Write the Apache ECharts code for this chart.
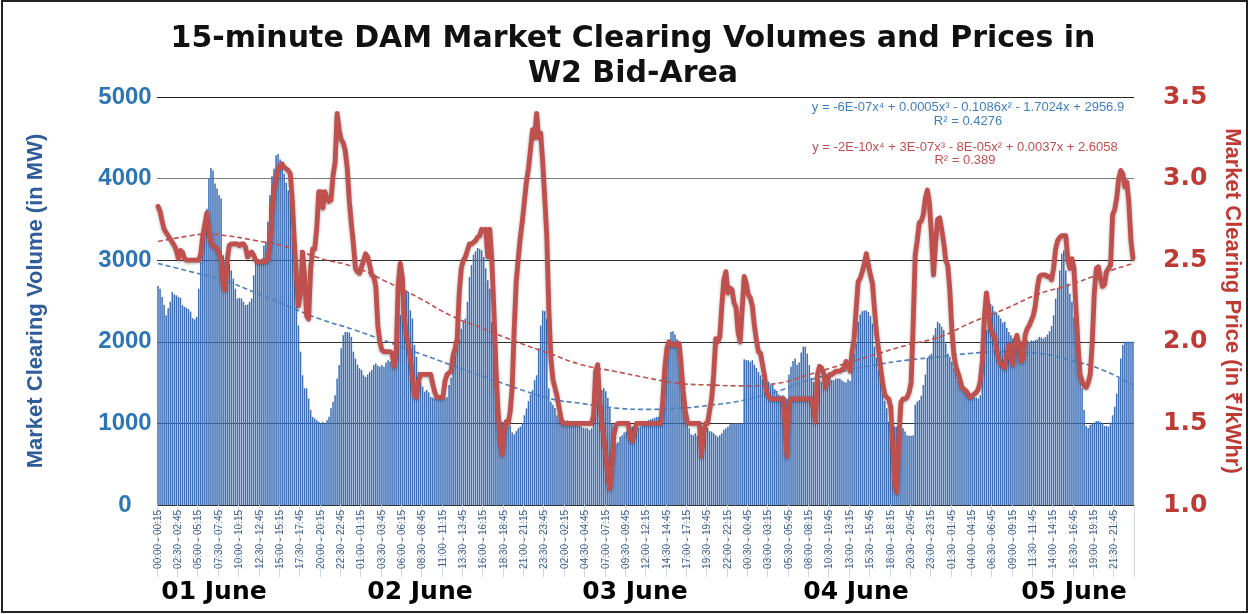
<!DOCTYPE html>
<html><head><meta charset="utf-8">
<script src="https://cdn.jsdelivr.net/npm/echarts/dist/echarts.min.js"></script>
<style>html,body{margin:0;padding:0;background:#fff}#c{width:1250px;height:614px}</style>
</head><body><div id="c"></div>
<script>
const titleLines = ['15-minute DAM Market Clearing Volumes and Prices in', 'W2 Bid-Area'];
const dayLabels = ['01 June', '02 June', '03 June', '04 June', '05 June'];
const volAxisName = 'Market Clearing Volume (in MW)';
const priceAxisName = 'Market Clearing Price (in ₹/kWhr)';
const volEquation = ['y = -6E-07x⁴ + 0.0005x³ - 0.1086x² - 1.7024x + 2956.9', 'R² = 0.4276'];
const priceEquation = ['y = -2E-10x⁴ + 3E-07x³ - 8E-05x² + 0.0037x + 2.6058', 'R² = 0.389'];

const volDay1 = [2685,2650,2550,2450,2325,2410,2490,2610,2580,2570,
2550,2540,2450,2430,2415,2400,2370,2290,2275,2305,
2650,2980,3225,3305,3630,4000,4130,4100,3940,3880,
3800,3755,3060,2980,2940,2960,2875,2775,2650,2530,
2540,2530,2490,2450,2455,2490,2530,2815,2980,3010,
3000,3020,3180,3230,3470,3795,4030,4120,4285,4300,
4235,4155,4060,3950,3855,3755,3305,2900,2610,2200,
1880,1590,1430,1430,1305,1165,1080,1060,1040,1020,
1000,1020,1000,1040,1080,1185,1265,1345,1550,1715,
1920,2080,2120,2120,2115,2060];
const volDay2 = [1880,1795,1720,1675,1655,1590,1570,1600,1630,1655,
1715,1735,1705,1695,1715,1695,1745,1775,1755,1775,
1815,1920,2245,2325,2490,2630,2610,2610,2385,2285,
1960,1815,1630,1510,1450,1390,1410,1380,1325,1315,
1305,1305,1315,1305,1320,1305,1325,1470,1560,1755,
1835,1940,2030,2160,2245,2285,2490,2795,2940,3070,
3110,3150,3140,3120,3040,2900,2755,2650,2245,1980,
1755,1345,1100,1020,970,970,960,970,890,865,
905,940,960,1000,1100,1185,1275,1355,1410,1530,
1590,1920,2200,2385,2375,2285];
const volDay3 = [1430,1265,1230,1190,1100,1055,1020,1010,1030,1035,
1020,1030,990,980,980,970,960,945,940,940,
920,940,1225,1285,1325,1355,1410,1430,1395,1315,
1185,1000,920,755,770,835,855,890,900,920,
940,960,940,940,945,960,980,1000,1020,1040,
1050,1060,1070,1080,1080,1120,1305,1630,1880,2020,
2120,2130,2090,2030,1755,1550,1285,1175,1055,940,
865,855,880,850,825,920,960,970,945,905,
900,880,855,835,855,880,920,940,960,990,
1000,1000,1000,1000,1000,1000];
const volDay4 = [1785,1775,1775,1755,1775,1720,1680,1630,1590,1540,
1500,1490,1510,1470,1470,1420,1395,1355,1340,1345,
1330,1305,1600,1695,1765,1795,1720,1745,1870,1940,
1940,1855,1715,1560,1510,1510,1550,1535,1510,1520,
1540,1550,1550,1530,1530,1550,1550,1550,1530,1510,
1500,1540,1520,1655,1855,1980,2245,2335,2375,2385,
2385,2365,2315,2225,1940,1805,1655,1530,1365,1275,
1185,1020,1000,970,960,960,930,930,940,900,
855,850,850,855,1230,1265,1285,1340,1470,1600,
1805,1835,1855,2080,2170,2245];
const volDay5 = [2225,2185,2145,1980,1855,1815,1755,1675,1625,1530,
1480,1435,1430,1410,1380,1365,1345,1320,1315,1305,
1345,2020,2080,2145,2410,2460,2440,2375,2360,2325,
2285,2235,2245,2170,2120,2080,2040,2000,2020,2015,
2000,2010,2015,2020,2000,2015,2010,2020,2030,2060,
2050,2040,2060,2090,2130,2195,2325,2530,2660,2875,
3080,3120,2875,2715,2590,2490,2305,2160,1980,1630,
1430,1165,970,945,980,1000,1010,1030,1030,1020,
1000,970,970,960,1010,1100,1205,1365,1550,1795,
1960,2000,2000,2000,2000,2000];

const priceDay1 = [2.83,2.80,2.74,2.69,2.67,2.65,2.63,2.61,2.59,2.56,
2.51,2.56,2.55,2.51,2.50,2.50,2.50,2.50,2.50,2.50,
2.50,2.54,2.65,2.72,2.79,2.68,2.61,2.59,2.58,2.57,
2.54,2.50,2.35,2.32,2.50,2.59,2.60,2.60,2.60,2.60,
2.59,2.60,2.60,2.58,2.52,2.54,2.55,2.53,2.50,2.49,
2.49,2.49,2.49,2.50,2.50,2.60,2.80,2.93,3.00,3.06,
3.08,3.09,3.07,3.06,3.05,3.03,2.86,2.61,2.40,2.22,
2.30,2.55,2.40,2.16,2.14,2.45,2.57,2.57,2.70,2.92,
2.92,2.82,2.92,2.88,2.86,2.87,3.02,3.10,3.40,3.30,
3.24,3.22,3.17,3.06,2.86,2.72];
const priceDay2 = [2.60,2.45,2.43,2.42,2.46,2.50,2.54,2.52,2.47,2.41,
2.40,2.34,2.10,2.00,1.95,1.94,1.94,1.94,1.94,1.93,
1.85,1.92,2.35,2.48,2.40,2.15,2.04,1.98,1.90,1.78,
1.67,1.66,1.76,1.80,1.80,1.80,1.80,1.80,1.80,1.74,
1.69,1.66,1.66,1.66,1.66,1.76,1.80,1.81,1.82,1.92,
1.96,2.02,2.30,2.45,2.50,2.52,2.56,2.60,2.60,2.61,
2.62,2.64,2.65,2.69,2.68,2.69,2.52,2.69,2.50,2.20,
1.85,1.59,1.40,1.31,1.45,1.51,1.50,1.57,1.72,2.08,
2.37,2.51,2.64,2.74,2.86,2.98,3.06,3.18,3.30,3.25,
3.40,3.25,3.28,3.10,2.88,2.65];
const priceDay3 = [2.20,1.90,1.77,1.72,1.67,1.60,1.53,1.50,1.50,1.50,
1.50,1.50,1.50,1.50,1.50,1.50,1.50,1.50,1.50,1.50,
1.50,1.50,1.55,1.82,1.86,1.62,1.51,1.42,1.30,1.17,
1.10,1.25,1.43,1.49,1.50,1.50,1.50,1.50,1.50,1.50,
1.41,1.39,1.44,1.50,1.50,1.50,1.50,1.50,1.50,1.50,
1.50,1.50,1.50,1.50,1.50,1.50,1.64,1.84,1.96,2.00,
1.99,1.98,1.98,1.99,1.99,1.86,1.70,1.58,1.51,1.50,
1.50,1.50,1.50,1.50,1.50,1.30,1.43,1.50,1.50,1.58,
1.65,1.80,2.02,2.00,2.03,2.22,2.38,2.43,2.30,2.33,
2.32,2.24,2.21,2.06,2.00,2.20];
const priceDay4 = [2.40,2.36,2.29,2.27,2.22,2.10,2.01,1.94,1.93,1.86,
1.79,1.69,1.67,1.65,1.65,1.65,1.65,1.65,1.65,1.65,
1.51,1.30,1.62,1.65,1.65,1.65,1.65,1.65,1.65,1.65,
1.65,1.65,1.65,1.65,1.59,1.51,1.80,1.85,1.84,1.81,
1.72,1.77,1.80,1.80,1.81,1.82,1.82,1.82,1.83,1.84,
1.88,1.85,1.82,1.94,2.02,2.20,2.37,2.39,2.43,2.48,
2.54,2.47,2.41,2.36,2.20,2.05,1.95,1.84,1.75,1.68,
1.66,1.65,1.60,1.35,1.12,1.08,1.41,1.63,1.65,1.65,
1.66,1.69,1.75,2.10,2.53,2.62,2.73,2.74,2.78,2.88,
2.93,2.85,2.65,2.41,2.60,2.75];
const priceDay5 = [2.76,2.69,2.61,2.50,2.47,2.32,2.08,1.92,1.85,1.81,
1.77,1.72,1.71,1.70,1.68,1.66,1.67,1.68,1.69,1.71,
1.76,1.88,2.15,2.30,2.20,2.08,2.05,2.03,1.95,1.90,
1.86,1.86,1.84,1.92,1.98,1.90,1.86,2.00,2.04,1.98,
1.88,1.90,2.04,2.08,2.10,2.13,2.16,2.22,2.33,2.40,
2.41,2.41,2.41,2.40,2.40,2.38,2.45,2.57,2.62,2.64,
2.65,2.65,2.65,2.50,2.45,2.51,2.45,2.20,1.98,1.80,
1.76,1.73,1.72,1.75,1.80,2.00,2.30,2.45,2.46,2.39,
2.34,2.35,2.43,2.45,2.47,2.78,2.81,2.88,3.00,3.05,
3.03,2.95,2.98,2.85,2.62,2.51];

// trendline points (category index -> value)
const volTrendIdx = [0,16,32,48,64,80,96,128,160,192,208,224,240,256,272,288,304,320,336,352,368,384,400,416,432,448,464,479];
const volTrendVal = [2960,2860,2755,2600,2435,2275,2150,1860,1575,1310,1245,1190,1172,1185,1225,1285,1390,1530,1635,1715,1775,1815,1860,1880,1860,1775,1655,1470];
const priceTrendIdx = [0,16,24,32,48,64,80,96,112,128,144,160,176,192,208,224,240,256,272,288,304,320,336,352,368,384,400,416,432,448,464,479];
const priceTrendVal = [2.615,2.65,2.66,2.653,2.62,2.58,2.51,2.46,2.37,2.27,2.16,2.08,2.00,1.93,1.86,1.82,1.78,1.745,1.735,1.73,1.745,1.80,1.86,1.92,1.98,2.03,2.12,2.20,2.29,2.35,2.42,2.48];

const volTicks = {min: 0, max: 5000, step: 1000};
const priceTicks = {min: 1.0, max: 3.5, step: 0.5};

// category labels: 15-minute slots, 5 days
function pad(n){return (n<10?'0':'')+n;}
function slot(s){const a=s*15,b=a+15;return pad(Math.floor(a/60))+':'+pad(a%60)+' - '+pad(Math.floor(b/60)%24)+':'+pad(b%60);}
const slotLabels = [];
for (let d=0; d<dayLabels.length; d++) for (let s=0; s<96; s++) slotLabels.push(slot(s));

const volume = [].concat(volDay1, volDay2, volDay3, volDay4, volDay5);
const price = [].concat(priceDay1, priceDay2, priceDay3, priceDay4, priceDay5);
const volTrend = slotLabels.map(() => null);
volTrendIdx.forEach((k, j) => volTrend[k] = volTrendVal[j]);
const priceTrend = slotLabels.map(() => null);
priceTrendIdx.forEach((k, j) => priceTrend[k] = priceTrendVal[j]);

const BLUE = '#2E75B6', RED = '#BE3A34';
const chart = echarts.init(document.getElementById('c'));
const dayCenters = [214, 420, 635, 856, 1074];
const graphics = [];
titleLines.forEach((t, k) => graphics.push({type:'text', x: 633, y: 39 + k*35,
  style:{text:t, font:'bold 30px "DejaVu Sans"', fill:'#111', textAlign:'center', textVerticalAlign:'middle'}}));
dayLabels.forEach((t, k) => graphics.push({type:'text', x: dayCenters[k], y: 592,
  style:{text:t, font:'bold 25px "DejaVu Sans"', fill:'#000', textAlign:'center', textVerticalAlign:'middle'}}));
volEquation.forEach((t, k) => graphics.push({type:'text', x: 968, y: 107 + k*14,
  style:{text:t, font:'13px "Liberation Sans"', fill:'#3F7FBF', textAlign:'center', textVerticalAlign:'middle'}}));
priceEquation.forEach((t, k) => graphics.push({type:'text', x: 965, y: 147 + k*13,
  style:{text:t, font:'13px "Liberation Sans"', fill:'#C0504D', textAlign:'center', textVerticalAlign:'middle'}}));
graphics.push({type:'rect', shape:{x:2, y:1, width:1245, height:611}, style:{fill:'none', stroke:'#222', lineWidth:2}, z:-1});

chart.setOption({
  animation: false,
  backgroundColor: '#fff',
  graphic: graphics,
  grid: {left: 157, right: 116, top: 97, bottom: 109, containLabel: false, outerBoundsMode: 'none'},
  xAxis: {
    type: 'category', data: slotLabels, boundaryGap: true,
    axisLine: {show: false},
    axisTick: {show: true, interval: 9, length: 72, lineStyle: {color: '#cfd8e4', width: 1}},
    axisLabel: {interval: 9, rotate: 90, fontSize: 10, color: '#3d5f8f', margin: 5, fontFamily: 'Liberation Sans'}
  },
  yAxis: [{
    type: 'value', min: volTicks.min, max: volTicks.max, interval: volTicks.step,
    name: volAxisName, nameLocation: 'middle', nameGap: 110, nameRotate: 90,
    nameTextStyle: {color: '#2F5D9B', fontSize: 22, fontWeight: 'bold', fontFamily: 'Liberation Sans'},
    axisLine: {show: false}, axisTick: {show: false},
    axisLabel: {color: BLUE, fontSize: 24, fontWeight: 'bold', fontFamily: 'Liberation Sans', align: 'center', margin: 32,
      formatter: v => String(v)},
    splitLine: {lineStyle: {color: ['#333', '#333', '#333', '#333', '#7a7a7a', '#222'], width: 1.2}}
  }, {
    type: 'value', min: priceTicks.min, max: priceTicks.max, interval: priceTicks.step,
    name: priceAxisName, nameLocation: 'middle', nameGap: 87, nameRotate: -90,
    nameTextStyle: {color: RED, fontSize: 22, fontWeight: 'bold', fontFamily: 'Liberation Sans'},
    axisLine: {show: false}, axisTick: {show: false},
    axisLabel: {color: RED, fontSize: 25, fontWeight: 'bold', fontFamily: 'DejaVu Sans', margin: 29,
      formatter: v => v.toFixed(1)},
    splitLine: {show: false}
  }],
  series: [{
    type: 'bar', data: volume, yAxisIndex: 0, barCategoryGap: '25%',
    itemStyle: {color: '#3E6FB6'}, z: 2
  }, {
    type: 'line', data: volTrend, yAxisIndex: 0, connectNulls: true, smooth: true, showSymbol: false,
    lineStyle: {color: '#4F81BD', width: 1.6, type: [5, 3]}, z: 3
  }, {
    type: 'line', data: priceTrend, yAxisIndex: 1, connectNulls: true, smooth: true, showSymbol: false,
    lineStyle: {color: '#C0504D', width: 1.6, type: [5, 3]}, z: 3
  }, {
    type: 'line', data: price, yAxisIndex: 1, showSymbol: false,
    lineStyle: {color: '#C0504D', width: 4.8, join: 'round', cap: 'round', shadowColor: 'rgba(0,0,0,0.35)', shadowBlur: 3, shadowOffsetY: 1}, z: 4
  }]
});
</script></body></html>
